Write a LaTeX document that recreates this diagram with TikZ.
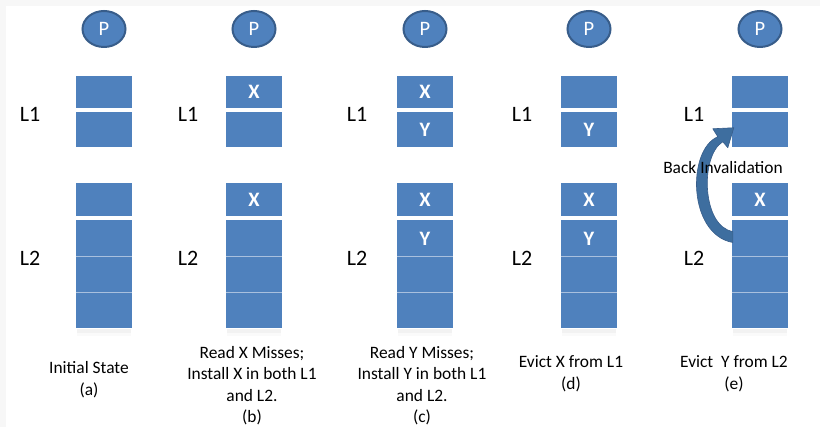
\documentclass[tikz,border=0pt]{standalone}
\usepackage{fontspec}
\setmainfont{Carlito}
\usetikzlibrary{shapes.geometric,calc}
\definecolor{cellblue}{HTML}{4F81BD}
\definecolor{rimblue}{HTML}{385D8A}
\definecolor{arrowblue}{HTML}{3E6E9F}
\definecolor{seamblue}{HTML}{A9C0DE}
\definecolor{edgegray}{HTML}{F7F7F7}

% One processor with its L1 (two lines) and L2 (four lines) below it
\newcommand\cachecol[6]{%
  \node[proc] (#1-p) at (#2,29) {P};
  \node[cell, minimum height=32pt] (#1-l1a) at (#2,92) {#3};
  \node[cell, minimum height=34.5pt] (#1-l1b) at (#2,129.75) {#4};
  \fill[black!5] (#2-27,329) rectangle (#2+27,333);
  \fill[black!2] (#2-27,333) rectangle (#2+27,336);
  \node[cell, minimum height=33pt] (#1-l2a) at (#2,199.5) {#5};
  \node[cell, minimum height=36pt] (#1-l2b) at (#2,238.5) {#6};
  \node[cell, minimum height=36pt] (#1-l2c) at (#2,274.5) {};
  \node[cell, minimum height=36pt] (#1-l2d) at (#2,310.5) {};
  \draw[seam] (#1-l2b.south west) -- (#1-l2b.south east);
  \draw[seam] (#1-l2c.south west) -- (#1-l2c.south east);
}

\begin{document}
\begin{tikzpicture}[x=1pt,y=-1pt,
  cell/.style={rectangle, fill=cellblue, minimum width=56pt, inner sep=0pt,
    text=white, font=\fontsize{20.5}{24}\selectfont\bfseries},
  proc/.style={ellipse, fill=cellblue, draw=rimblue, line width=2pt,
    minimum width=43pt, minimum height=36pt, inner sep=0pt, text=white,
    font=\fontsize{20.5}{24}\selectfont},
  seam/.style={draw=seamblue, line width=0.9pt},
  lvl/.style={font=\fontsize{22}{26}\selectfont},
  captext/.style={align=center, font=\fontsize{17.4}{21.5}\selectfont, inner sep=0pt},
  note/.style={font=\fontsize{17.4}{20}\selectfont, inner sep=0pt}]

% page and its faint frame
\fill[white] (0,0) rectangle (820,427);
\fill[edgegray] (0,0) rectangle (820,6);
\fill[edgegray] (0,0) rectangle (6,427);
\useasboundingbox (0,0) rectangle (820,427);

% the five states
\cachecol{a}{104}{}{}{}{}
\cachecol{b}{254}{X}{}{X}{}
\cachecol{c}{425}{X}{Y}{X}{Y}
\cachecol{d}{589}{}{Y}{X}{Y}
\cachecol{e}{760}{}{}{X}{}

% level labels
\foreach \n/\x in {a/30,b/188,c/357,d/522,e/694}{
  \node[lvl] (\n-lab1) at (\x,114) {L1};
  \node[lvl] (\n-lab2) at (\x,258) {L2};
}

% captions
\node[captext] (a-cap) at (89,379.5) {Initial State\\(a)};
\node[captext] (b-cap) at (252,385.5) {Read X Misses;\\Install X in both L1\\and L2.\\(b)};
\node[captext] (c-cap) at (422,385.5) {Read Y Misses;\\Install Y in both L1\\and L2.\\(c)};
\node[captext] (d-cap) at (571,373.5) {Evict X from L1\\(d)};
\node[captext] (e-cap) at (734,373.5) {Evict~~Y from L2\\(e)};

% back-invalidation arrow from the L2 line up to the L1 line
\coordinate (S) at (e-l2b.west);
\coordinate (E) at (e-l1b.west);
\fill[arrowblue, draw=rimblue, line width=0.6pt, line join=round]
  ($(S)+(1,4)$) .. controls ($(S)+(-44,-4)$) and ($(E)+(-45,20)$) .. ($(E)+(-14,7)$)
  -- ($(E)+(-19,-1)$) -- ($(E)+(2,-2)$) -- ($(E)+(-4,18)$) -- ($(E)+(-9,12)$)
  .. controls ($(E)+(-32,26)$) and ($(S)+(-30,-12)$) .. ($(S)+(1,-7)$) -- cycle;
\node[note] (binv) at (723,168) {Back Invalidation};

\end{tikzpicture}
\end{document}
